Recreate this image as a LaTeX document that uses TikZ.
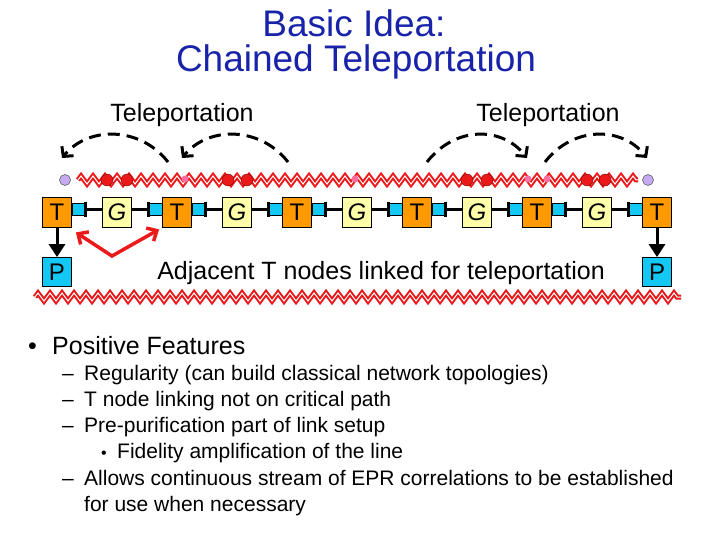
\documentclass[tikz,border=0pt]{standalone}
\usepackage{fontspec}
\setmainfont{Liberation Sans}
\usetikzlibrary{arrows.meta,decorations.pathmorphing,calc}
\definecolor{titleblue}{RGB}{25,35,170}
\definecolor{orangeT}{RGB}{255,153,0}
\definecolor{yellowG}{RGB}{255,255,170}
\definecolor{cyanC}{RGB}{20,200,245}
\definecolor{wred}{RGB}{235,25,25}
\definecolor{pinkdot}{RGB}{255,110,160}
\definecolor{lavender}{RGB}{200,170,240}
\tikzset{
  fs/.style={font=\fontsize{#1}{#1}\selectfont},
  tbox/.style={draw=black, line width=0.8pt, fill=orangeT, minimum width=29pt, minimum height=30pt, inner sep=0pt, fs=24},
  gbox/.style={draw=black, line width=0.8pt, fill=yellowG, minimum width=29pt, minimum height=30pt, inner sep=0pt, fs=24},
  pbox/.style={draw=black, line width=0.8pt, fill=cyanC, minimum width=29pt, minimum height=29pt, inner sep=0pt, fs=24},
  cbox/.style={draw=black, line width=0.5pt, fill=cyanC, minimum width=13pt, minimum height=12pt, inner sep=0pt},
  linkline/.style={line width=2.5pt, black},
  tickline/.style={line width=2.8pt, black},
  tele/.style={line width=3pt, black, dash pattern=on 12pt off 7pt, -{Straight Barb[length=7pt,width=15pt,line width=3pt]}},
  parrow/.style={line width=3pt, black, -{Triangle[length=13pt,width=16pt]}},
  redarrow/.style={line width=3.5pt, wred, {Straight Barb[length=8pt,width=15pt,line width=3.5pt]}-{Straight Barb[length=8pt,width=15pt,line width=3.5pt]}},
  wave/.style={decorate, decoration={zigzag, segment length=12pt, amplitude=4pt}},
  redwave/.style={wave, line width=5pt, wred, line join=miter},
  whitewave/.style={wave, line width=1pt, white},
  reddot/.style={circle, fill=wred, draw=black!60!red, line width=0.3pt, minimum size=12pt, inner sep=0pt},
  pdot/.style={circle, fill=pinkdot, minimum size=7pt, inner sep=0pt},
  qdot/.style={circle, fill=lavender, draw=black!70, line width=0.5pt, minimum size=11pt, inner sep=0pt},
  txt/.style={anchor=base west, inner sep=0pt},
}
\begin{document}
\begin{tikzpicture}[x=1pt,y=-1pt]
\useasboundingbox (0,0) rectangle (720,540);
% title
\node[anchor=base, inner sep=0pt, fs=37, text=titleblue] (t1) at (354,37) {Basic Idea:};
\node[anchor=base, inner sep=0pt, fs=37, text=titleblue] (t2) at (356,72) {Chained Teleportation};
% labels
\node[anchor=base, inner sep=0pt, fs=25] (lab1) at (182,122) {Teleportation};
\node[anchor=base, inner sep=0pt, fs=25] (lab2) at (548,122) {Teleportation};
% dashed arcs
\coordinate (a1s) at (168,162); \coordinate (a1e) at (62,158);
\coordinate (a2s) at (288,162); \coordinate (a2e) at (182,158);
\coordinate (a3s) at (427,162); \coordinate (a3e) at (527,158);
\coordinate (a4s) at (545,162); \coordinate (a4e) at (647,158);
\draw[tele] (a1s) .. controls (140,126) and (88,126) .. (a1e);
\draw[tele] (a2s) .. controls (260,126) and (208,126) .. (a2e);
\draw[tele] (a3s) .. controls (455,126) and (502,126) .. (a3e);
\draw[tele] (a4s) .. controls (573,126) and (622,126) .. (a4e);
% wavy line with dots
\coordinate (w1) at (78,180); \coordinate (w2) at (638,180);
\draw[redwave] (w1) -- (w2);
\draw[whitewave] (w1) -- (w2);
\foreach \x in {185,355,528,547} \node[pdot] at (\x,179) {};
\foreach \x in {107,127,228,247,467,487,587,605} \node[reddot] at (\x,180) {};
\node[qdot] (q1) at (65,180) {};
\node[qdot] (q2) at (648,180) {};
% chain
\coordinate (ly) at (0,209.5);
\foreach \i/\x in {1/117,2/237,3/357,4/477,5/597}
  \node[gbox] (G\i) at (\x,212) {\itshape G};
\foreach \i/\x in {1/57,2/177,3/297,4/417,5/537,6/657}
  \node[tbox] (T\i) at (\x,212) {T};
\foreach \i in {1,...,5}{
  \node[cbox, anchor=west] (CR\i) at (T\i.east |- ly) {};
  \draw[tickline] ($(CR\i.east)+(0,-7.5)$) -- ($(CR\i.east)+(0,7.5)$);
  \draw[linkline] (CR\i.east) -- (CR\i.east -| G\i.west);
}
\foreach \i/\j in {1/2,2/3,3/4,4/5,5/6}{
  \node[cbox, anchor=east] (CL\j) at (T\j.west |- ly) {};
  \draw[tickline] ($(CL\j.west)+(0,-7.5)$) -- ($(CL\j.west)+(0,7.5)$);
  \draw[linkline] (CL\j.west) -- (CL\j.west -| G\i.east);
}
% P nodes
\node[pbox] (P1) at (57,272) {P};
\node[pbox] (P2) at (657,272) {P};
\draw[parrow] (T1.south) -- (P1.north);
\draw[parrow] (T6.south) -- (P2.north);
% red arrow
\coordinate (rb) at (112,256);
\draw[redarrow, line join=miter] ($(T1.south east)+(4,5)$) -- (rb) -- ($(T2.south west)+(-3,2)$);
\node[anchor=base, inner sep=0pt, fs=25] (adj) at (381,279) {Adjacent T nodes linked for teleportation};
% bottom wave
\coordinate (b1) at (35,297); \coordinate (b2) at (681,297);
\draw[redwave] (b1) -- (b2);
\draw[whitewave] (b1) -- (b2);
% bullets
\node[txt, fs=25] (bu0) at (28,354) {•};
\node[txt, fs=25] (l0) at (52,354) {Positive Features};
\node[txt, fs=21] (d1) at (62,380) {–};
\node[txt, fs=21] (l1) at (84,380) {Regularity (can build classical network topologies)};
\node[txt, fs=21] (d2) at (62,406) {–};
\node[txt, fs=21] (l2) at (84,406) {T node linking not on critical path};
\node[txt, fs=21] (d3) at (62,432) {–};
\node[txt, fs=21] (l3) at (84,432) {Pre-purification part of link setup};
\node[txt, fs=16] (bu4) at (101,458) {•};
\node[txt, fs=21] (l4) at (117,458) {Fidelity amplification of the line};
\node[txt, fs=21] (d5) at (62,485) {–};
\node[txt, fs=21] (l5) at (84,485) {Allows continuous stream of EPR correlations to be established};
\node[txt, fs=21] (l6) at (84,511) {for use when necessary};
\end{tikzpicture}
\end{document}
